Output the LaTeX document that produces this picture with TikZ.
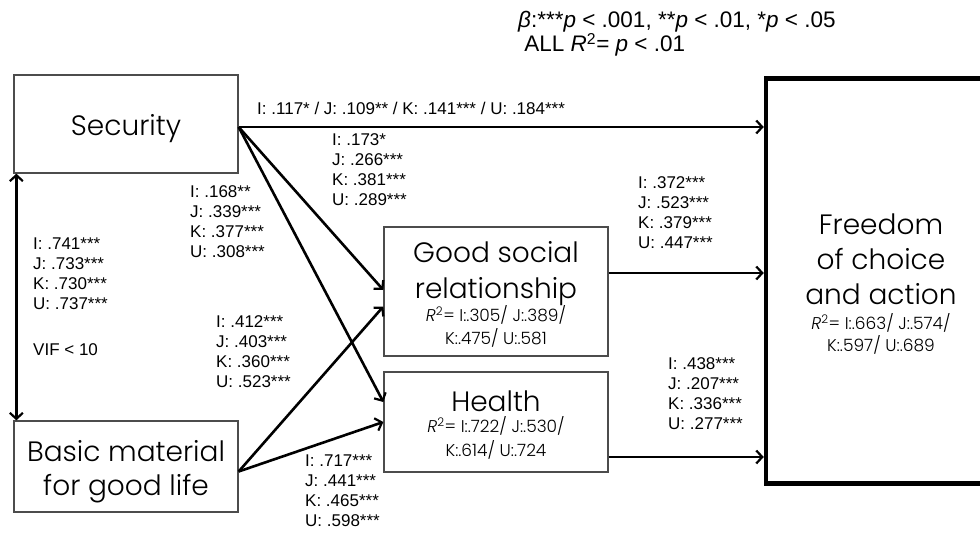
\documentclass[tikz,border=0pt]{standalone}
\usepackage{fontspec}
\setmainfont{Liberation Sans}
\newfontfamily\gothic{Poppins}[UprightFont={* Light}]
\usetikzlibrary{arrows.meta,positioning}

\newcommand{\rsq}[2]{\begin{tabular}[t]{@{}c@{}}\textit{R}\textsuperscript{2}= #1\\#2\end{tabular}}
\newcommand{\tall}{\rule{0pt}{31pt}}

\begin{document}
\begin{tikzpicture}[x=1pt,y=-1pt,
   >={Straight Barb[length=6pt,width=13pt,line width=2.2pt]},
   box/.style={draw=black!70,line width=1.3pt,minimum width=224pt,align=center,
     inner sep=0pt,font=\gothic\fontsize{28}{36}\selectfont},
   coef/.style={anchor=north west,align=left,inner sep=0pt,
     font=\fontsize{17}{20}\selectfont},
   link/.style={line width=2.6pt,->}]
   \useasboundingbox (0,0) rectangle (980,535);

   % boxes
   \node[box,minimum height=98pt] (sec) at (126,124) {\tall Security};
   \node[box,minimum height=91pt,font=\gothic\fontsize{28}{34}\selectfont]
     (basic) at (126,466.5) {\tall Basic material\\for good life};
   \node[box,minimum height=129pt] (social) at (496,291.5)
     {\tall Good social\\relationship\\[-13pt]
      {\fontsize{17}{23}\selectfont\rsq{I:.305/ J:.389/}{K:.475/ U:.581}}};
   \node[box,minimum height=100pt] (health) at (496,422)
     {\tall Health\\[-15pt]
      {\fontsize{17}{24}\selectfont\rsq{I:.722/ J:.530/}{K:.614/ U:.724}}};
   \node[box,draw=black,line width=4.5pt,minimum width=230pt,minimum height=405pt,
     font=\gothic\fontsize{28}{35}\selectfont]
     (freedom) at (881,281)
     {\tall Freedom\\of choice\\and action\\[-10pt]
      {\fontsize{17}{21}\selectfont\rsq{I:.663/ J:.574/}{K:.597/ U:.689}}};

   \coordinate (secout) at ([yshift=-3pt]sec.east);
   \coordinate (basicout) at ([yshift=-5pt]basic.east);

   % paths
   \draw[link] (secout) -- (secout -| freedom.west);
   \draw[link] (secout) -- ([yshift=1.5pt]social.west);
   \draw[link] (secout) -- ([yshift=20pt]health.west);
   \draw[link] (basicout) -- ([yshift=-15pt]social.west);
   \draw[link] (basicout) -- (health.west);
   \draw[link] ([yshift=18.5pt]social.east) -- ([yshift=18.5pt]social.east -| freedom.west);
   \draw[link] ([yshift=-35pt]health.east) -- ([yshift=-35pt]health.east -| freedom.west);
   \draw[link,<->] ([xshift=3pt]sec.south west) -- ([xshift=3pt]basic.north west);

   % coefficients
   \node[coef] (c1) at (257,102) {I: .117* / J: .109** / K: .141*** / U: .184***};
   \node[coef] (c2) at (332,133) {I: .173*\\J: .266***\\K: .381***\\U: .289***};
   \node[coef] (c3) at (190,185) {I: .168**\\J: .339***\\K: .377***\\U: .308***};
   \node[coef] (c4) at (33,238) {I: .741***\\J: .733***\\K: .730***\\U: .737***\\[26pt]VIF < 10};
   \node[coef] (c5) at (216,315) {I: .412***\\J: .403***\\K: .360***\\U: .523***};
   \node[coef] (c6) at (305,455) {I: .717***\\J: .441***\\K: .465***\\U: .598***};
   \node[coef] (c7) at (638,176) {I: .372***\\J: .523***\\K: .379***\\U: .447***};
   \node[coef] (c8) at (668,357) {I: .438***\\J: .207***\\K: .336***\\U: .277***};

   % legend
   \node[anchor=north west,align=left,inner sep=0pt,font=\fontsize{22.5}{21}\selectfont]
     (legend) at (518,11)
     {\textit{β}:***\textit{p} < .001, **\textit{p} < .01, *\textit{p} < .05\\
      \ ALL \textit{R}\textsuperscript{2}= \textit{p} < .01};
\end{tikzpicture}
\end{document}
